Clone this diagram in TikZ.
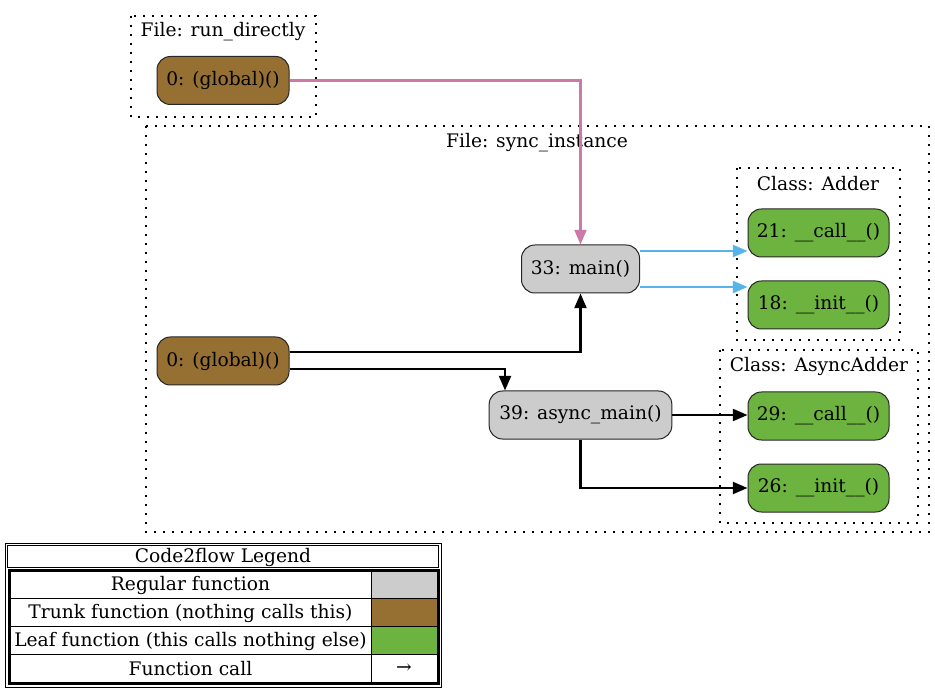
\documentclass[tikz,border=0pt]{standalone}
\usepackage{fontspec}
\setmainfont{DejaVu Serif}
\usetikzlibrary{arrows.meta}
\definecolor{trunk}{HTML}{966F33}
\definecolor{regular}{HTML}{CCCCCC}
\definecolor{leaf}{HTML}{6DB33F}
\definecolor{pinkedge}{HTML}{CC79A7}
\definecolor{blueedge}{HTML}{56B4E9}
\tikzset{
  fn/.style={draw=black!85, line width=0.75pt, rounded corners=10pt, minimum height=36pt, inner sep=0pt, font=\fontsize{14pt}{16pt}\selectfont},
  trunkfn/.style={fn, fill=trunk},
  regfn/.style={fn, fill=regular},
  leaffn/.style={fn, fill=leaf},
  cluster/.style={draw=black, line width=0.8pt, dash pattern=on 1.2pt off 5.55pt},
  clabel/.style={font=\fontsize{14pt}{16pt}\selectfont, inner sep=0pt},
  call/.style={line width=1.6pt, -{Triangle[length=11pt,width=9pt]}},
  legtext/.style={font=\fontsize{14pt}{16pt}\selectfont, inner sep=0pt},
}
\begin{document}
\begin{tikzpicture}[x=0.75pt,y=-0.75pt]
\useasboundingbox (0,0) rectangle (935,691);
% clusters
\draw[cluster] (131,16) rectangle (316,117);
\node[clabel] (lrun) at (223,31.5) {File: run\_directly};
\draw[cluster] (146,126) rectangle (929,532);
\node[clabel] (lsync) at (537,142.5) {File: sync\_instance};
\draw[cluster] (737,168) rectangle (900,340);
\node[clabel] (ladder) at (818,183.5) {Class: Adder};
\draw[cluster] (720,350) rectangle (918,523);
\node[clabel] (lasync) at (819,366.5) {Class: AsyncAdder};
% nodes
\node[trunkfn, minimum width=99pt] (g1) at (223,80.5) {0: (global)()};
\node[trunkfn, minimum width=99pt] (g2) at (223,361) {0: (global)()};
\node[regfn, minimum width=88.5pt] (main) at (580.5,269) {33: main()};
\node[regfn, minimum width=137pt] (am) at (580.5,415) {39: async\_main()};
\node[leaffn, minimum width=105.75pt] (c21) at (818.5,233) {21: \_\_call\_\_()};
\node[leaffn, minimum width=105.75pt] (i18) at (818.5,305) {18: \_\_init\_\_()};
\node[leaffn, minimum width=105.75pt] (c29) at (818.5,416) {29: \_\_call\_\_()};
\node[leaffn, minimum width=105.75pt] (i26) at (818.5,488) {26: \_\_init\_\_()};
% edges
\draw[call, pinkedge] (g1.east) -| (main.north);
\coordinate (m1) at ([yshift=13.5pt]main.east);
\coordinate (m2) at ([yshift=-13.5pt]main.east);
\draw[call, blueedge] (m1) -- (m1 -| c21.west);
\draw[call, blueedge] (m2) -- (m2 -| i18.west);
\draw[call, black] ([yshift=6.75pt]g2.east) -| (main.south);
\coordinate (amin) at ([xshift=-56.6pt]am.north);
\draw[call, black] ([yshift=-6pt]g2.east) -| (amin);
\draw[call, black] (am.east) -- (am.east -| c29.west);
\draw[call, black] (am.south) |- (i26.west);
% legend
\draw[line width=0.75pt] (5,543) rectangle (441,687);
\draw[line width=0.75pt] (7.5,545.5) rectangle (438.5,567.5);
\node[legtext] (lt) at (223,557) {Code2flow Legend};
\fill[regular] (371,571) rectangle (437,598);
\fill[trunk] (371,598) rectangle (437,626);
\fill[leaf] (371,626) rectangle (437,654);
\draw[line width=0.75pt] (10,598) -- (437,598) (10,626) -- (437,626) (10,654) -- (437,654) (371,571) -- (371,682);
\draw[line width=2.25pt] (9.5,570) rectangle (438,683.5);
\node[legtext] (r1) at (190.5,585.5) {Regular function};
\node[legtext] (r2) at (190.5,613) {Trunk function (nothing calls this)};
\node[legtext] (r3) at (190.5,641) {Leaf function (this calls nothing else)};
\node[legtext] (r4) at (190.5,669) {Function call};
\node[legtext] (r5) at (404,669) {→};
\end{tikzpicture}
\end{document}
